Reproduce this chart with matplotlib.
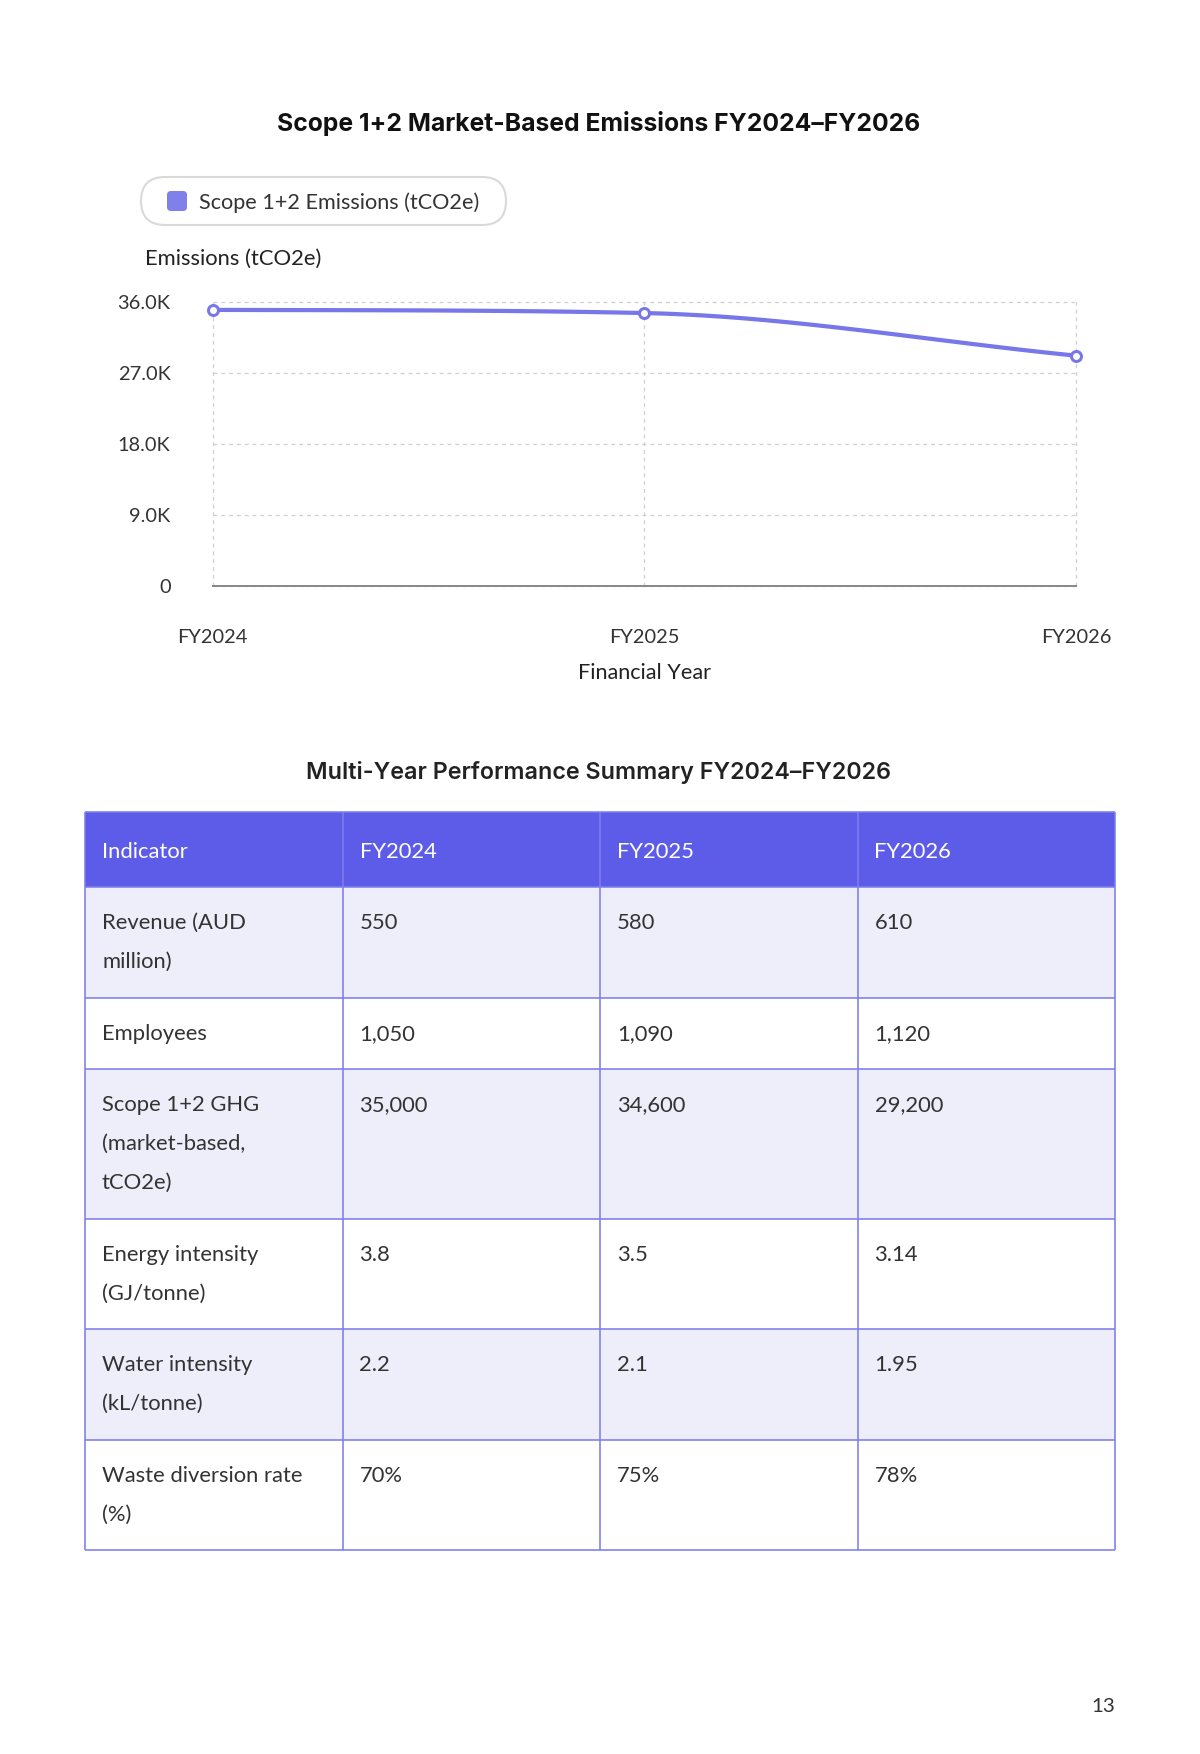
import numpy as np
import matplotlib
matplotlib.use("Agg")
import matplotlib.pyplot as plt
from matplotlib.patches import Rectangle, FancyBboxPatch

# ---------------- data ----------------
years = ["FY2024", "FY2025", "FY2026"]
emissions = [35000, 34600, 29200]
series_label = "Scope 1+2 Emissions (tCO2e)"
y_ticks = [0, 9000, 18000, 27000, 36000]
y_tick_labels = ["0", "9.0K", "18.0K", "27.0K", "36.0K"]

table_header = ["Indicator", "FY2024", "FY2025", "FY2026"]
indicators = ["Revenue (AUD\nmillion)", "Employees",
              "Scope 1+2 GHG\n(market-based,\ntCO2e)",
              "Energy intensity\n(GJ/tonne)", "Water intensity\n(kL/tonne)",
              "Waste diversion rate\n(%)"]
fy2024 = ["550", "1,050", "35,000", "3.8", "2.2", "70%"]
fy2025 = ["580", "1,090", "34,600", "3.5", "2.1", "75%"]
fy2026 = ["610", "1,120", "29,200", "3.14", "1.95", "78%"]

chart_title = "Scope 1+2 Market-Based Emissions FY2024\u2013FY2026"
table_title = "Multi-Year Performance Summary FY2024\u2013FY2026"
page_number = "13"

# ---------------- style ----------------
W, H = 1200, 1754
DPI = 100
LINE_C = "#7777ea"
HEAD_C = "#5c5ce8"
ROW_C = "#eeeefb"
BORDER_C = "#7e7eec"
TXT = "#333333"
BODY = "Lato"
TITLE = "Inter"

def px(p):  # pixels -> points
    return p * 72.0 / DPI

fig = plt.figure(figsize=(W / DPI, H / DPI), dpi=DPI)
fig.patch.set_facecolor("white")

page = fig.add_axes([0, 0, 1, 1])
page.set_xlim(0, W)
page.set_ylim(H, 0)
page.axis("off")

# titles
page.text(599, 123.5, chart_title, ha="center", va="center", fontsize=px(24.7),
          fontweight="bold", family=TITLE, color="#111111")
page.text(599, 773, table_title, ha="center", va="center", fontsize=px(23.3),
          fontweight="semibold", family=TITLE, color="#222222")

# legend pill
page.add_patch(FancyBboxPatch((141, 177), 365, 48,
                              boxstyle="round,pad=0,rounding_size=24",
                              fc="white", ec="#d9d9d9", lw=1.5))
page.add_patch(FancyBboxPatch((167 + 4, 191 + 4), 20 - 8, 20 - 8,
                              boxstyle="round,pad=4", fc="#8080ea", ec="none"))
page.text(199, 202.5, series_label, ha="left", va="center", fontsize=px(21.7),
          family=BODY, color=TXT)

# y axis title
page.text(145, 259, "Emissions (tCO2e)", ha="left", va="center", fontsize=px(22),
          family=BODY, color="#222222")

# ---------------- chart ----------------
L, R, T, B = 212.5, 1076, 302, 586
ax = fig.add_axes([L / W, 1 - B / H, (R - L) / W, (B - T) / H])
xs = np.arange(len(years), dtype=float)
ys = np.array(emissions, dtype=float)

# monotone cubic interpolation (as used by Chart.js)
n = len(xs)
dx = np.diff(xs)
dk = np.diff(ys) / dx
mk = np.zeros(n)
mk[0] = dk[0]
mk[-1] = dk[-1]
for i in range(1, n - 1):
    if dk[i - 1] * dk[i] <= 0:
        mk[i] = 0
    else:
        mk[i] = (dk[i - 1] + dk[i]) / 2
for i in range(n - 1):
    if abs(dk[i]) < 1e-9:
        mk[i] = mk[i + 1] = 0
        continue
    a = mk[i] / dk[i]
    b = mk[i + 1] / dk[i]
    s = a * a + b * b
    if s > 9:
        tau = 3 / np.sqrt(s)
        mk[i] = a * tau * dk[i]
        mk[i + 1] = b * tau * dk[i]
cx, cy = [], []
for i in range(n - 1):
    t = np.linspace(0, 1, 60)
    h00 = 2 * t**3 - 3 * t**2 + 1
    h10 = t**3 - 2 * t**2 + t
    h01 = -2 * t**3 + 3 * t**2
    h11 = t**3 - t**2
    cx.extend(xs[i] + t * dx[i])
    cy.extend(h00 * ys[i] + h10 * dx[i] * mk[i] + h01 * ys[i + 1] + h11 * dx[i] * mk[i + 1])

ax.plot(cx, cy, color=LINE_C, lw=px(4.2), solid_capstyle="round", clip_on=False, zorder=3)
ax.plot(xs, ys, ls="none", marker="o", ms=px(10), mfc="white", mec=LINE_C,
        mew=px(3), clip_on=False, zorder=4)

ax.set_xlim(xs[0], xs[-1])
ax.set_ylim(y_ticks[0], y_ticks[-1])
ax.set_xticks(xs)
ax.set_xticklabels(years)
ax.set_yticks(y_ticks)
ax.set_yticklabels(y_tick_labels)
for sp in ["top", "right", "left"]:
    ax.spines[sp].set_visible(False)
ax.spines["bottom"].set_color("#8a8a8a")
ax.spines["bottom"].set_linewidth(px(2))
ax.tick_params(axis="both", length=0, labelsize=px(20), labelcolor=TXT)
ax.tick_params(axis="y", pad=px(42))
ax.tick_params(axis="x", pad=px(43))
for lab in ax.get_xticklabels() + ax.get_yticklabels():
    lab.set_family(BODY)
ax.grid(True, color="#d0d0d0", lw=px(1.3), ls=(0, (3, 3)), zorder=0)
for gl in ax.get_xgridlines() + ax.get_ygridlines():
    gl.set_clip_on(False)
ax.set_axisbelow(True)
ax.set_xlabel("Financial Year", fontsize=px(21.7), family=BODY, color="#222222",
              labelpad=px(17))
ax.set_facecolor("none")

# ---------------- table ----------------
col_x = [85, 342.5, 600, 857.5, 1115]
top = 812
head_h = 75
pad = 16.25
line_h = 39
txt_pad = 17
FS = 22

rows = list(zip(indicators, fy2024, fy2025, fy2026))

# header
page.add_patch(Rectangle((col_x[0], top), col_x[-1] - col_x[0], head_h,
                         fc=HEAD_C, ec="none", zorder=1))
for j, h in enumerate(table_header):
    page.text(col_x[j] + txt_pad, top + head_h / 2 + 2.5, h, ha="left", va="center",
              fontsize=px(FS), family=BODY, color="white", zorder=3)

y = top + head_h
row_edges = [top, y]
for r, row in enumerate(rows):
    nlines = max(c.count("\n") + 1 for c in row)
    rh = 2 * pad + nlines * line_h
    fc = ROW_C if r % 2 == 0 else "white"
    page.add_patch(Rectangle((col_x[0], y), col_x[-1] - col_x[0], rh,
                             fc=fc, ec="none", zorder=1))
    for j, cell in enumerate(row):
        for k, ln in enumerate(cell.split("\n")):
            page.text(col_x[j] + txt_pad, y + pad + line_h * (k + 0.5) + 0.5, ln,
                      ha="left", va="center", fontsize=px(FS), family=BODY,
                      color=TXT, zorder=3)
    y += rh
    row_edges.append(y)

bottom = y
for ye in row_edges:
    page.plot([col_x[0], col_x[-1]], [ye, ye], color=BORDER_C, lw=px(1.6), zorder=2,
              solid_capstyle="butt")
for xe in col_x:
    page.plot([xe, xe], [top, bottom], color=BORDER_C, lw=px(1.6), zorder=2,
              solid_capstyle="butt")

page.text(1115, 1706.5, page_number, ha="right", va="center", fontsize=px(20.5),
          family=BODY, color=TXT)

fig.savefig("out.png", dpi=DPI, facecolor="white")
